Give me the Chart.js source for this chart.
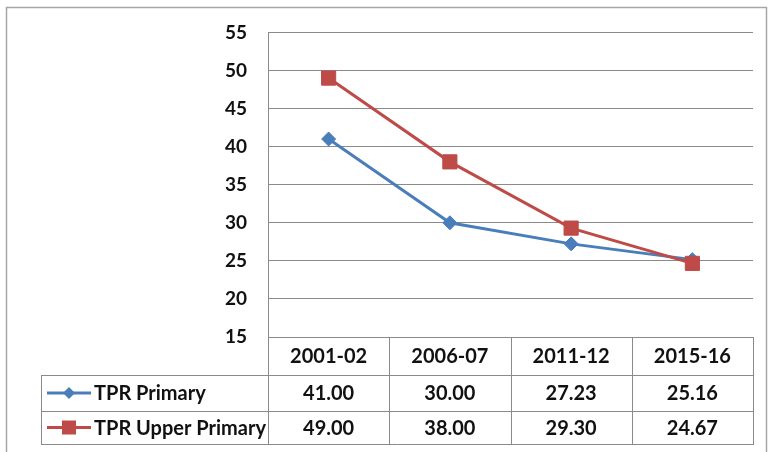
<!DOCTYPE html>
<html>
<head>
<meta charset="utf-8">
<script src="https://cdn.jsdelivr.net/npm/chart.js@4/dist/chart.umd.min.js"></script>
<style>
  html, body { margin: 0; padding: 0; background: #ffffff; }
  #wrap { width: 769px; height: 452px; position: relative; }
</style>
</head>
<body>
<div id="wrap"><canvas id="c" width="769" height="452"></canvas></div>
<script>
// Pupil-teacher ratio by survey year
const categories = ['2001-02', '2006-07', '2011-12', '2015-16'];
const tprPrimary = [41.00, 30.00, 27.23, 25.16];
const tprUpperPrimary = [49.00, 38.00, 29.30, 24.67];
const seriesNames = ['TPR Primary', 'TPR Upper Primary'];
const yTicks = [15, 20, 25, 30, 35, 40, 45, 50, 55];

const BLUE = '#4A7EBB';
const RED = '#BE4B48';
const GRID = '#8a8a8a';
const FONT = 'Lato, "Open Sans", "DejaVu Sans", sans-serif';

// Data table under the plot, with legend keys in the first column
const dataTable = {
  id: 'dataTable',
  afterDraw(chart) {
    const ctx = chart.ctx;
    const area = chart.chartArea;
    const xs = chart.scales.x;
    const centers = categories.map((_, i) => xs.getPixelForValue(i));
    const bounds = [area.left];
    for (let i = 0; i < centers.length - 1; i++) bounds.push((centers[i] + centers[i + 1]) / 2);
    bounds.push(area.right);

    const top = area.bottom;
    const rowY = [top, 375, 411, 444];
    const tableLeft = 41;

    ctx.save();
    ctx.strokeStyle = GRID;
    ctx.lineWidth = 1;
    const hline = (x1, x2, y) => { ctx.beginPath(); ctx.moveTo(x1, Math.round(y) + 0.5); ctx.lineTo(x2, Math.round(y) + 0.5); ctx.stroke(); };
    const vline = (x, y1, y2) => { ctx.beginPath(); ctx.moveTo(Math.round(x) + 0.5, y1); ctx.lineTo(Math.round(x) + 0.5, y2); ctx.stroke(); };

    hline(tableLeft, area.right, rowY[1]);
    hline(tableLeft, area.right, rowY[2]);
    hline(tableLeft, area.right + 1, rowY[3]);
    vline(tableLeft, rowY[1], rowY[3] + 1);
    bounds.forEach(b => vline(b, top, rowY[3]));

    ctx.fillStyle = '#111';
    ctx.font = 'bold 20px ' + FONT;
    ctx.textAlign = 'center';
    ctx.textBaseline = 'middle';
    categories.forEach((c, i) => ctx.fillText(c, centers[i], (rowY[0] + rowY[1]) / 2 + 1));

    const rows = [
      { name: seriesNames[0], vals: tprPrimary, color: BLUE, marker: 'diamond' },
      { name: seriesNames[1], vals: tprUpperPrimary, color: RED, marker: 'square' }
    ];
    rows.forEach((r, k) => {
      const cy = (rowY[k + 1] + rowY[k + 2]) / 2 + 1;
      r.vals.forEach((v, i) => ctx.fillText(v.toFixed(2), centers[i], cy));
      // legend key
      ctx.strokeStyle = r.color;
      ctx.fillStyle = r.color;
      ctx.lineWidth = 3;
      ctx.beginPath(); ctx.moveTo(47, cy - 1); ctx.lineTo(91, cy - 1); ctx.stroke();
      const mx = 69, my = cy - 1;
      ctx.beginPath();
      if (r.marker === 'diamond') {
        ctx.moveTo(mx, my - 6); ctx.lineTo(mx + 6, my); ctx.lineTo(mx, my + 6); ctx.lineTo(mx - 6, my);
        ctx.closePath(); ctx.fill();
      } else {
        ctx.fillRect(mx - 7, my - 7, 14, 14);
      }
      ctx.fillStyle = '#111';
      ctx.textAlign = 'left';
      ctx.fillText(r.name, 94, cy);
      ctx.textAlign = 'center';
      ctx.strokeStyle = GRID;
      ctx.lineWidth = 1;
    });

    // outer frame
    ctx.strokeStyle = '#a6a6a6';
    ctx.lineWidth = 1.5;
    ctx.strokeRect(6.5, 7.5, 760, 470);
    ctx.restore();
  }
};

new Chart(document.getElementById('c'), {
  type: 'line',
  data: {
    labels: categories,
    datasets: [
      {
        label: seriesNames[0],
        data: tprPrimary,
        borderColor: BLUE,
        backgroundColor: BLUE,
        borderWidth: 3,
        pointStyle: 'rectRot',
        pointRadius: 7,
        pointBorderWidth: 1,
        tension: 0,
        order: 2
      },
      {
        label: seriesNames[1],
        data: tprUpperPrimary,
        borderColor: RED,
        backgroundColor: RED,
        borderWidth: 3,
        pointStyle: 'rect',
        pointRadius: 10,
        pointBorderWidth: 1,
        tension: 0,
        order: 1
      }
    ]
  },
  options: {
    responsive: false,
    animation: false,
    events: [],
    layout: { padding: { left: 0, right: 16, top: 29, bottom: 115 } },
    plugins: { legend: { display: false }, tooltip: { enabled: false } },
    scales: {
      x: { type: 'category', offset: true, display: false },
      y: {
        min: yTicks[0],
        max: yTicks[yTicks.length - 1],
        afterFit(scale) { scale.width = 268; },
        afterBuildTicks(scale) { scale.ticks = yTicks.map(v => ({ value: v })); },
        ticks: {
          padding: 21,
          color: '#111',
          font: { family: FONT, size: 19, weight: 'bold' }
        },
        grid: { color: GRID, lineWidth: 1, drawTicks: false },
        border: { color: GRID, width: 1 }
      }
    }
  },
  plugins: [dataTable]
});
</script>
</body>
</html>
